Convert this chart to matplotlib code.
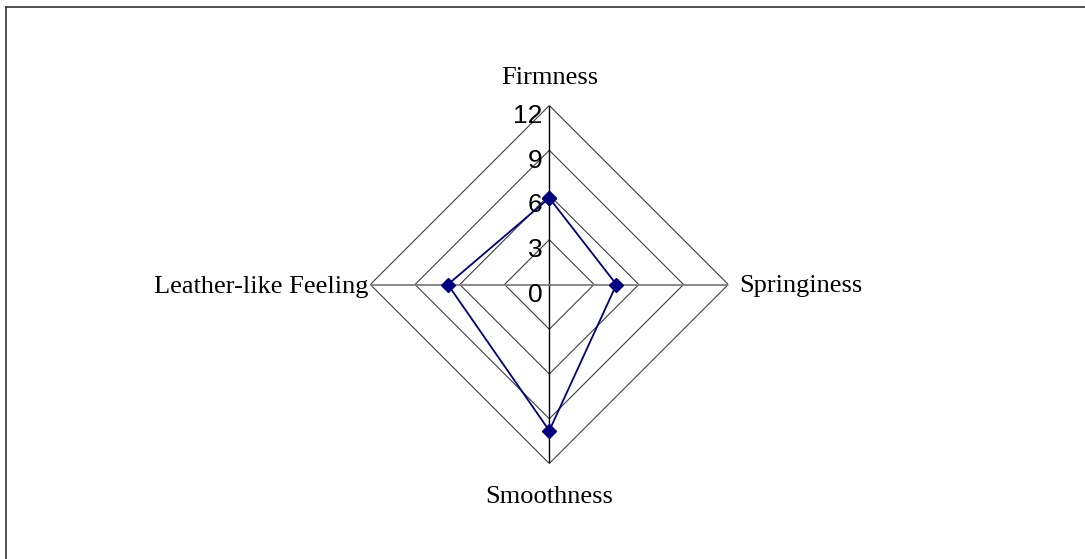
import numpy as np
import matplotlib
matplotlib.use("Agg")
import matplotlib.pyplot as plt
from matplotlib.transforms import offset_copy
from matplotlib.lines import Line2D

# === Daten ===
kategorien = ["Firmness", "Springiness", "Smoothness", "Leather-like Feeling"]
werte = [5.8, 4.5, 9.8, 6.8]
ringe = [3, 6, 9, 12]
tick_labels = ["0", "3", "6", "9", "12"]
tick_werte = [0, 3, 6, 9, 12]

fig = plt.figure(figsize=(10.85, 5.59), dpi=100)
ax = fig.add_axes([370.3 / 1085, 95.5 / 559, 358 / 1085, 358 / 559], projection="polar")
ax.set_theta_zero_location("N")
ax.set_theta_direction(-1)
ax.set_ylim(0, 12)
ax.set_axis_off()

winkel = np.arange(len(kategorien)) * np.pi / 2

# --- Gitter (Rauten) ---
for r in ringe:
    ax.plot(np.append(winkel, winkel[0]), [r] * (len(winkel) + 1), color="#404040", lw=0.8)

# --- Speichen ---
for i, a in enumerate(winkel):
    farbe = "black" if i % 2 == 0 else "#808080"
    ax.plot([a, a], [0, 12], color=farbe, lw=1.0 if i % 2 == 0 else 1.3)

# --- Datenreihe ---
ax.plot(np.append(winkel, winkel[0]), werte + [werte[0]], color="#000080", lw=1.3,
        marker="D", markersize=7, markeredgecolor="#000080", markerfacecolor="#000080")

# --- Wertachse beschriften ---
for v, t in zip(tick_werte, tick_labels):
    tr = offset_copy(ax.transData, fig=fig, x=-7, y=-17.5, units="dots")
    ax.text(0, v, t, transform=tr, ha="right", va="baseline",
            fontsize=19, family="Liberation Sans", color="black")

# --- Kategorien ---
serif = dict(fontsize=19, family="Liberation Serif", color="black")
pos = [(0, 21, "center"), (11, -7.5, "left"), (0, -39.5, "center"), (-2, -8.7, "right")]
for a, name, (dx, dy, ha) in zip(winkel, kategorien, pos):
    tr = offset_copy(ax.transData, fig=fig, x=dx, y=dy, units="dots")
    ax.text(a, 12, name, transform=tr, ha=ha, va="baseline", **serif)

# --- Rahmen oben/links ---
fig.add_artist(Line2D([5.5 / 1085, 1], [1 - 6.5 / 559, 1 - 6.5 / 559], color="#333333", lw=1.2))
fig.add_artist(Line2D([5.5 / 1085, 5.5 / 1085], [0, 1 - 6.5 / 559], color="#333333", lw=1.2))

fig.savefig("out.png", dpi=100)
